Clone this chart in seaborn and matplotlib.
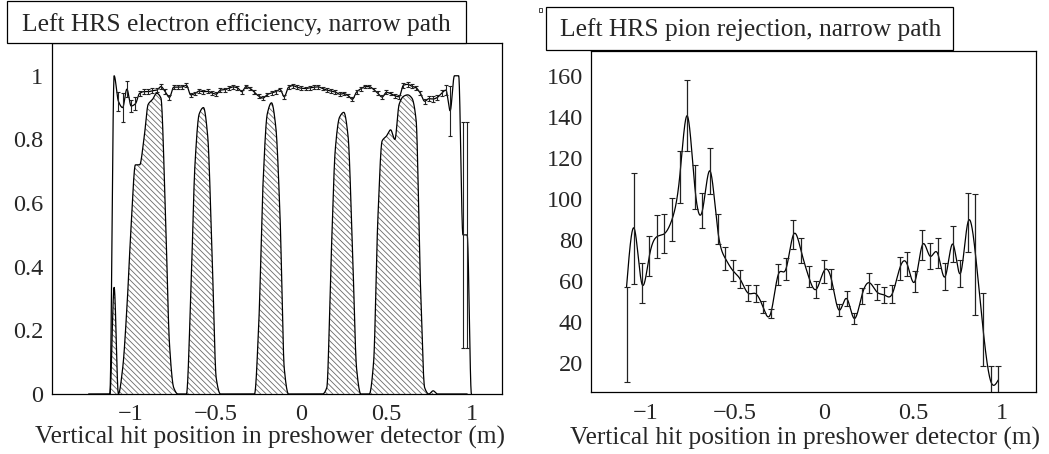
import numpy as np
import matplotlib
matplotlib.use("Agg")
import matplotlib.pyplot as plt
from matplotlib.patches import Rectangle
from matplotlib.ticker import MultipleLocator, FuncFormatter
import seaborn as sns

# ---------------- data ----------------
# electron efficiency vs. vertical hit position (left HRS, narrow path)
eff_x = [-1.125, -1.1, -1.075, -1.05, -1.025, -1.0, -0.975, -0.95, -0.925, -0.9,
         -0.875, -0.85, -0.825, -0.8, -0.775, -0.75, -0.725, -0.7, -0.675, -0.65,
         -0.625, -0.6, -0.575, -0.55, -0.525, -0.5, -0.475, -0.45, -0.425, -0.4,
         -0.375, -0.35, -0.325, -0.3, -0.275, -0.25, -0.225, -0.2, -0.175, -0.15,
         -0.125, -0.1, -0.075, -0.05, -0.025, 0.0, 0.025, 0.05, 0.075, 0.1,
         0.125, 0.15, 0.175, 0.2, 0.225, 0.25, 0.275, 0.3, 0.325, 0.35,
         0.375, 0.4, 0.425, 0.45, 0.475, 0.5, 0.525, 0.55, 0.575, 0.6,
         0.625, 0.65, 0.675, 0.7, 0.725, 0.75, 0.775, 0.8, 0.825, 0.85,
         0.875, 0.9, 0.925, 0.95, 0.975, 1.0]
eff_val = [0.0, 1.0, 0.92, 0.90, 0.958, 0.905, 0.912, 0.945, 0.950, 0.950,
           0.953, 0.955, 0.966, 0.950, 0.932, 0.964, 0.964, 0.965, 0.970, 0.940,
           0.944, 0.952, 0.950, 0.951, 0.946, 0.942, 0.955, 0.956, 0.961, 0.965,
           0.962, 0.950, 0.966, 0.960, 0.948, 0.936, 0.930, 0.941, 0.946, 0.950,
           0.957, 0.934, 0.964, 0.969, 0.964, 0.961, 0.960, 0.962, 0.964, 0.965,
           0.960, 0.955, 0.952, 0.949, 0.942, 0.944, 0.938, 0.926, 0.949, 0.959,
           0.966, 0.966, 0.957, 0.945, 0.933, 0.948, 0.944, 0.937, 0.934, 0.970,
           0.973, 0.967, 0.962, 0.945, 0.920, 0.928, 0.927, 0.932, 0.945, 0.955,
           0.890, 1.0, 1.0, 0.50, 0.50, 0.0]
eff_err = [0.0, 0.0, 0.03, 0.045, 0.024, 0.02, 0.02, 0.008, 0.007, 0.007,
           0.007, 0.007, 0.007, 0.007, 0.007, 0.006, 0.006, 0.006, 0.006, 0.006,
           0.006, 0.006, 0.006, 0.006, 0.006, 0.006, 0.006, 0.006, 0.006, 0.006,
           0.006, 0.006, 0.006, 0.006, 0.006, 0.006, 0.006, 0.006, 0.006, 0.006,
           0.006, 0.006, 0.006, 0.006, 0.006, 0.006, 0.006, 0.006, 0.006, 0.006,
           0.006, 0.006, 0.006, 0.006, 0.006, 0.006, 0.006, 0.006, 0.006, 0.006,
           0.006, 0.006, 0.006, 0.006, 0.006, 0.006, 0.006, 0.006, 0.006, 0.007,
           0.007, 0.007, 0.007, 0.007, 0.008, 0.008, 0.008, 0.009, 0.010, 0.015,
           0.078, 0.0, 0.0, 0.354, 0.354, 0.0]

# hit distribution in the preshower (scaled), drawn hatched underneath
hit_x = [-1.25, -1.2, -1.15, -1.125, -1.1, -1.075, -1.05, -1.025, -1.0, -0.975,
         -0.95, -0.925, -0.9, -0.875, -0.85, -0.825, -0.8, -0.775, -0.75, -0.725,
         -0.7, -0.675, -0.65, -0.625, -0.6, -0.575, -0.55, -0.525, -0.5, -0.475,
         -0.45, -0.4, -0.35, -0.3, -0.275, -0.25, -0.225, -0.2, -0.175, -0.15,
         -0.125, -0.1, -0.075, -0.05, 0.0, 0.05, 0.1, 0.125, 0.15, 0.175,
         0.2, 0.225, 0.25, 0.275, 0.3, 0.325, 0.35, 0.375, 0.4, 0.425,
         0.45, 0.475, 0.5, 0.525, 0.55, 0.575, 0.6, 0.625, 0.65, 0.675,
         0.7, 0.725, 0.75, 0.775, 0.8, 0.85, 0.9, 0.95, 0.975]
hit_val = [0.0, 0.0, 0.0, 0.0, 0.335, 0.0, 0.08, 0.27, 0.53, 0.72,
           0.72, 0.80, 0.91, 0.925, 0.945, 0.93, 0.60, 0.16, 0.02, 0.0,
           0.0, 0.0, 0.30, 0.72, 0.88, 0.90, 0.81, 0.45, 0.05, 0.0,
           0.0, 0.0, 0.0, 0.0, 0.0, 0.22, 0.66, 0.88, 0.915, 0.84,
           0.56, 0.08, 0.0, 0.0, 0.0, 0.0, 0.0, 0.0, 0.02, 0.42,
           0.77, 0.87, 0.885, 0.81, 0.47, 0.08, 0.0, 0.0, 0.0, 0.10,
           0.55, 0.795, 0.81, 0.83, 0.80, 0.91, 0.935, 0.94, 0.93, 0.86,
           0.35, 0.02, 0.0, 0.01, 0.0, 0.0, 0.0, 0.0, 0.0]

# pion rejection factor vs. vertical hit position
rej_x = [-1.105, -1.0625, -1.02, -0.9775, -0.935, -0.8925, -0.85, -0.8075, -0.765, -0.7225,
         -0.68, -0.6375, -0.595, -0.5525, -0.51, -0.4675, -0.425, -0.3825, -0.34, -0.2975,
         -0.255, -0.2125, -0.17, -0.1275, -0.085, -0.0425, 0.0, 0.0425, 0.085, 0.1275,
         0.17, 0.2125, 0.255, 0.2975, 0.34, 0.3825, 0.425, 0.4675, 0.51, 0.5525,
         0.595, 0.6375, 0.68, 0.7225, 0.765, 0.8075, 0.85, 0.8925, 0.935, 0.9775]
rej_val = [57.0, 85.6, 58.7, 72.0, 81.5, 83.0, 90.0, 110.5, 140.5, 105.7,
           94.3, 113.6, 85.2, 71.0, 65.0, 60.6, 54.0, 53.7, 47.0, 44.0,
           63.0, 65.6, 82.5, 74.7, 62.0, 55.8, 64.6, 60.7, 45.7, 51.3,
           41.6, 52.5, 59.0, 54.5, 53.0, 53.4, 65.9, 68.0, 59.6, 77.5,
           72.0, 73.4, 62.0, 77.9, 63.5, 88.5, 72.8, 36.3, 11.0, 11.5]
rej_err_lo = [46.3, 27.0, 9.8, 9.8, 10.4, 9.5, 10.4, 12.6, 17.3, 10.7,
              8.7, 11.2, 7.4, 5.6, 5.3, 4.4, 4.1, 4.0, 2.9, 2.4,
              5.0, 5.3, 7.2, 6.3, 5.0, 4.1, 5.6, 4.9, 3.0, 3.6,
              2.8, 3.8, 4.9, 3.9, 4.0, 4.3, 5.5, 5.8, 4.9, 7.4,
              6.4, 7.3, 6.5, 8.6, 6.7, 14.3, 29.6, 17.9, 7.4, 7.0]
rej_err_hi = [0.0, 27.0, 9.8, 9.8, 10.4, 9.5, 10.4, 12.6, 17.3, 10.7,
              8.7, 11.2, 7.4, 5.6, 5.3, 4.4, 4.1, 4.0, 2.9, 2.4,
              5.0, 5.3, 7.2, 6.3, 5.0, 4.1, 5.6, 4.9, 3.0, 3.6,
              2.8, 3.8, 4.9, 3.9, 4.0, 4.3, 5.5, 5.8, 4.9, 7.4,
              6.4, 7.3, 6.5, 8.6, 6.7, 14.3, 29.6, 17.9, 7.4, 7.0]

titles = ["Left HRS electron efficiency, narrow path",
          "Left HRS pion rejection, narrow path"]
xlabel = "Vertical hit position in preshower detector (m)"


# ---------------- helpers ----------------
def spline_curve(x, y, n=2000):
    """Natural cubic spline through the points (like a 'C' draw option)."""
    x = np.asarray(x, float)
    y = np.asarray(y, float)
    m = len(x)
    h = np.diff(x)
    A = np.zeros((m, m))
    r = np.zeros(m)
    A[0, 0] = A[-1, -1] = 1.0
    for i in range(1, m - 1):
        A[i, i - 1] = h[i - 1]
        A[i, i] = 2 * (h[i - 1] + h[i])
        A[i, i + 1] = h[i]
        r[i] = 3 * ((y[i + 1] - y[i]) / h[i] - (y[i] - y[i - 1]) / h[i - 1])
    c = np.linalg.solve(A, r)
    b = (y[1:] - y[:-1]) / h - h * (2 * c[:-1] + c[1:]) / 3
    d = (c[1:] - c[:-1]) / (3 * h)
    xs = np.linspace(x[0], x[-1], n)
    idx = np.clip(np.searchsorted(x, xs) - 1, 0, m - 2)
    dx = xs - x[idx]
    ys = y[idx] + b[idx] * dx + c[idx] * dx ** 2 + d[idx] * dx ** 3
    return xs, ys


def monotone_curve(x, y, n=2000):
    """Shape-preserving (PCHIP) cubic through the points, no overshoot."""
    x = np.asarray(x, float)
    y = np.asarray(y, float)
    m = len(x)
    h = np.diff(x)
    delta = np.diff(y) / h
    d = np.zeros(m)
    for k in range(1, m - 1):
        if delta[k - 1] * delta[k] > 0:
            w1 = 2 * h[k] + h[k - 1]
            w2 = h[k] + 2 * h[k - 1]
            d[k] = (w1 + w2) / (w1 / delta[k - 1] + w2 / delta[k])
    xs = np.linspace(x[0], x[-1], n)
    idx = np.clip(np.searchsorted(x, xs) - 1, 0, m - 2)
    t = (xs - x[idx]) / h[idx]
    h00 = 2 * t ** 3 - 3 * t ** 2 + 1
    h10 = t ** 3 - 2 * t ** 2 + t
    h01 = -2 * t ** 3 + 3 * t ** 2
    h11 = t ** 3 - t ** 2
    ys = (h00 * y[idx] + h10 * h[idx] * d[idx]
          + h01 * y[idx + 1] + h11 * h[idx] * d[idx + 1])
    return xs, ys


def signed(v, _pos):
    s = "%g" % v
    return s.replace("-", "\u2212")


def style_axes(ax, xlim, ylim, ymaj, ymin_, ymaj_len, ymin_len, ypad):
    ax.set_xlim(*xlim)
    ax.set_ylim(*ylim)
    for sp in ax.spines.values():
        sp.set_visible(True)
        sp.set_linewidth(0.9)
        sp.set_color("black")
    ax.xaxis.set_major_locator(MultipleLocator(0.5))
    ax.xaxis.set_minor_locator(MultipleLocator(0.1))
    ax.yaxis.set_major_locator(MultipleLocator(ymaj))
    ax.yaxis.set_minor_locator(MultipleLocator(ymin_))
    ax.xaxis.set_major_formatter(FuncFormatter(signed))
    ax.yaxis.set_major_formatter(FuncFormatter(signed))
    ax.tick_params(axis="x", which="major", direction="in", length=7.5, width=0.8,
                   top=False, labelsize=17.5, pad=7.5)
    ax.tick_params(axis="x", which="minor", direction="in", length=3.8, width=0.8,
                   top=False)
    ax.tick_params(axis="y", which="major", direction="in", length=ymaj_len, width=0.8,
                   right=False, labelsize=17.5, pad=ypad)
    ax.tick_params(axis="y", which="minor", direction="in", length=ymin_len, width=0.8,
                   right=False)
    ax.grid(False)


# ---------------- figure ----------------
sns.set_style("white")
plt.rcParams["font.family"] = ["Liberation Serif", "DejaVu Serif"]
plt.rcParams["hatch.linewidth"] = 0.6

fig = plt.figure(figsize=(10.49, 4.54), dpi=100)
fig.patch.set_facecolor("white")

axL = fig.add_axes([0.0496, 0.1322, 0.4290, 0.7731])
axR = fig.add_axes([0.5631, 0.1359, 0.4245, 0.7524])

# --- left: hatched hit distribution ---
hx, hy = monotone_curve(hit_x, hit_val, 3000)
axL.fill_between(hx, 0, hy, facecolor="none", edgecolor="#6a6a6a",
                 hatch="\\\\\\\\\\\\", linewidth=0)
sns.lineplot(x=hx, y=hy, ax=axL, color="black", linewidth=0.9,
             sort=False, estimator=None)

# --- left: efficiency curve with error bars ---
ex, ey = monotone_curve(eff_x, eff_val, 3000)
sns.lineplot(x=ex, y=ey, ax=axL, color="black", linewidth=0.9,
             sort=False, estimator=None)
e_mask = np.asarray(eff_err) > 0
axL.errorbar(np.asarray(eff_x)[e_mask], np.asarray(eff_val)[e_mask],
             yerr=np.asarray(eff_err)[e_mask], fmt="none", ecolor="#222222",
             elinewidth=0.8, capsize=1.6, capthick=0.8)
style_axes(axL, (-1.465, 1.18), (0, 1.103), 0.2, 0.05, 10, 5, 6.5)

# --- right: rejection curve with error bars ---
rx, ry = spline_curve(rej_x, rej_val, 3000)
sns.lineplot(x=rx, y=ry, ax=axR, color="black", linewidth=0.9,
             sort=False, estimator=None)
axR.errorbar(rej_x, rej_val, yerr=[rej_err_lo, rej_err_hi], fmt="none",
             ecolor="#222222", elinewidth=0.9, capsize=2.2, capthick=0.8)
style_axes(axR, (-1.306, 1.189), (5.5, 172.3), 20, 5, 10.5, 5.5, 5.5)

for ax, (lx, ly) in ((axL, (1.007, -0.124)), (axR, (1.009, -0.136))):
    ax.set_xlabel(xlabel, fontsize=18.3, ha="right", va="center")
    ax.xaxis.set_label_coords(lx, ly)
    ax.set_ylabel("")

# --- title boxes ---
W, H = 1049.0, 454.0
def title_box(x0, x1, ytop, ybot, text, xc, ybase):
    fig.add_artist(Rectangle((x0 / W, (H - ybot) / H), (x1 - x0) / W, (ybot - ytop) / H,
                             transform=fig.transFigure, fill=True, facecolor="white",
                             edgecolor="black", linewidth=0.9, zorder=5))
    fig.text(xc / W, (H - ybase) / H, text, ha="center", va="baseline",
             fontsize=18.4, zorder=6)

title_box(7.3, 465.7, 0.6, 42.7, titles[0], 236.0, 31.5)
title_box(546.0, 953.3, 7.3, 50.0, titles[1], 750.5, 36.0)
fig.add_artist(Rectangle((538.5 / W, (H - 11.5) / H), 3 / W, 3 / H,
                         transform=fig.transFigure, fill=False,
                         edgecolor="#444444", linewidth=0.7))

fig.savefig("out.png", dpi=100)
